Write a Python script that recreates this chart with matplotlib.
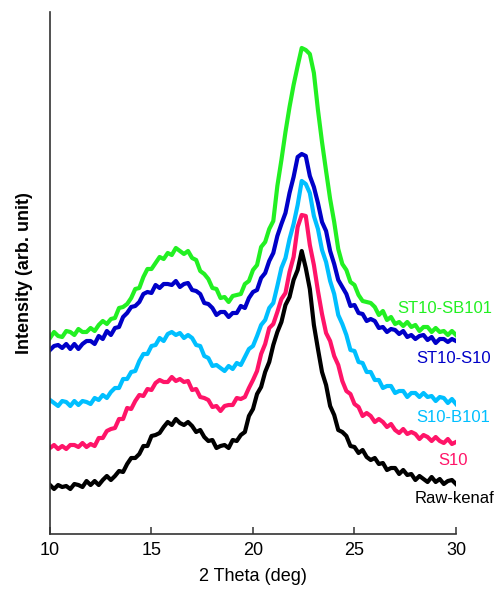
import numpy as np
import matplotlib
matplotlib.use("Agg")
import matplotlib.pyplot as plt

plt.rcParams["font.family"] = ["Liberation Sans", "DejaVu Sans"]

# 2-theta grid (deg), 0.2 deg step
two_theta = np.round(np.arange(10.0, 30.0001, 0.2), 1)

# intensities (arb. unit) (noise included roughly)
raw_kenaf = [
    49, 45, 49, 47, 48, 45, 50, 49, 47, 53,
    49, 53, 49, 54, 58, 54, 58, 63, 62, 70,
    76, 76, 80, 88, 88, 98, 99, 101, 107, 112,
    109, 115, 111, 109, 112, 108, 102, 104, 97, 93,
    94, 86, 88, 89, 86, 94, 93, 99, 102, 118,
    125, 140, 147, 162, 172, 189, 202, 212, 229, 237,
    254, 264, 283, 266, 245, 209, 185, 162, 149, 128,
    119, 104, 102, 98, 88, 87, 81, 84, 77, 74,
    76, 70, 71, 64, 66, 66, 60, 64, 59, 60,
    54, 58, 55, 52, 57, 52, 55, 50, 53, 54,
    50]
s10 = [
    86, 89, 85, 88, 85, 89, 89, 87, 91, 87,
    90, 88, 96, 96, 103, 105, 106, 115, 115, 126,
    125, 133, 139, 138, 145, 144, 151, 154, 152, 152,
    157, 153, 155, 152, 153, 144, 145, 137, 136, 134,
    127, 128, 123, 128, 129, 129, 136, 135, 137, 146,
    154, 163, 180, 190, 206, 210, 222, 235, 241, 262,
    277, 307, 319, 318, 289, 269, 243, 220, 201, 193,
    178, 169, 153, 143, 140, 130, 127, 118, 121, 118,
    112, 115, 112, 107, 110, 104, 101, 105, 100, 102,
    100, 95, 99, 97, 93, 97, 93, 91, 95, 90,
    92]
s10_b101 = [
    134, 131, 128, 133, 132, 128, 133, 129, 133, 132,
    130, 136, 134, 139, 136, 142, 146, 146, 155, 155,
    162, 163, 173, 180, 180, 188, 189, 196, 193, 200,
    202, 199, 201, 196, 199, 196, 189, 188, 178, 176,
    168, 169, 166, 163, 168, 165, 171, 169, 177, 185,
    188, 198, 209, 214, 226, 231, 248, 266, 276, 295,
    310, 329, 353, 350, 341, 318, 305, 284, 272, 253,
    240, 219, 210, 199, 184, 183, 172, 171, 162, 162,
    154, 154, 146, 148, 148, 141, 143, 143, 137, 141,
    141, 137, 141, 137, 138, 133, 137, 136, 131, 135,
    130]
st10_s10 = [
    184, 188, 189, 186, 190, 185, 190, 185, 190, 193,
    193, 190, 198, 195, 203, 199, 206, 207, 217, 221,
    227, 228, 232, 240, 242, 241, 249, 246, 250, 250,
    249, 253, 247, 250, 251, 244, 243, 240, 231, 230,
    226, 219, 222, 222, 217, 221, 221, 228, 226, 236,
    242, 244, 256, 261, 273, 281, 298, 310, 321, 341,
    357, 377, 380, 378, 358, 347, 331, 312, 303, 283,
    270, 254, 247, 240, 228, 229, 221, 220, 213, 215,
    213, 206, 207, 202, 205, 204, 200, 203, 197, 199,
    195, 198, 199, 194, 197, 191, 195, 195, 192, 195,
    193]
st10_sb101 = [
    196, 202, 198, 197, 203, 202, 199, 205, 202, 202,
    206, 203, 209, 213, 210, 215, 216, 226, 227, 230,
    236, 245, 246, 257, 265, 265, 271, 277, 275, 281,
    279, 286, 283, 280, 283, 276, 274, 263, 260, 255,
    246, 245, 236, 237, 232, 238, 239, 240, 250, 253,
    264, 269, 287, 292, 305, 313, 348, 374, 402, 427,
    449, 468, 486, 484, 480, 461, 424, 392, 363, 335,
    312, 285, 270, 264, 252, 249, 239, 233, 232, 231,
    227, 219, 223, 214, 217, 210, 212, 208, 212, 207,
    209, 203, 207, 207, 202, 206, 202, 203, 199, 203,
    199]

names = ["ST10-SB101", "ST10-S10", "S10-B101", "S10", "Raw-kenaf"]
series = [st10_sb101, st10_s10, s10_b101, s10, raw_kenaf]
colors = ["#22F022", "#0000C8", "#00BFFF", "#FF1468", "#000000"]
# label anchor (x in deg, y in intensity), right aligned
label_pos = [(31.8, 225), (31.7, 175), (31.7, 117), (30.6, 74), (31.9, 36)]

fig = plt.figure(figsize=(4.99, 5.90), dpi=100)
ax = fig.add_axes([0.1002, 0.0949, 0.8136, 0.8848])

for y, c in zip(series, colors):
    ax.plot(two_theta, y, "-", color=c, lw=3.0)

for name, c, (lx, ly) in zip(names, colors, label_pos):
    ax.text(lx, ly, name, color=c, fontsize=12, ha="right", va="center",
            clip_on=False)

ax.set_xlim(10, 30)
ax.set_ylim(0, 522)
ax.set_xticks([10, 15, 20, 25, 30])
ax.set_yticks([])
ax.tick_params(axis="x", direction="in", length=5, width=1.1, pad=6,
               labelsize=13, color="#333333")
for side in ("top", "right"):
    ax.spines[side].set_visible(False)
for side in ("left", "bottom"):
    ax.spines[side].set_color("#333333")
    ax.spines[side].set_linewidth(1.2)

ax.set_xlabel("2 Theta (deg)", fontsize=13, labelpad=6)
ax.set_ylabel("Intensity (arb. unit)", fontsize=13, fontweight="bold", labelpad=12)

fig.savefig("out.png", dpi=100)
